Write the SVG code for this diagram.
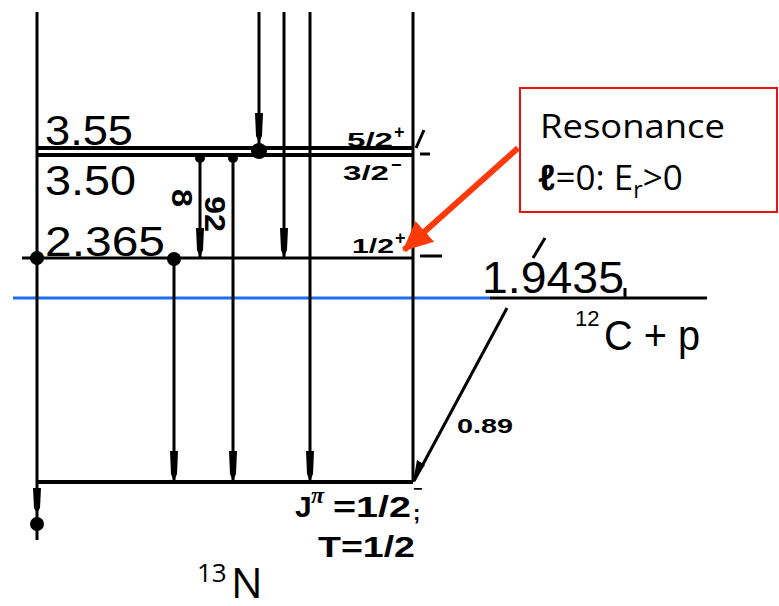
<svg xmlns="http://www.w3.org/2000/svg" width="779" height="606" viewBox="0 0 779 606">
<defs>
<style>
.ln{stroke:#000;stroke-width:3;fill:none}
.lv{stroke:#000;stroke-width:4;fill:none}
.dot{fill:#000}
.ah{fill:#000}
.big{font-family:"Liberation Sans",Arial,sans-serif;font-size:42px;fill:#000}
.sm{font-family:"Liberation Sans",Arial,sans-serif;font-size:20px;font-weight:bold;fill:#000}
.mid{font-family:"Liberation Sans",Arial,sans-serif;font-size:30px;fill:#000}
.cal{font-family:"Open Sans","Liberation Sans",sans-serif;fill:#000}
</style>
<marker id="redhead" markerUnits="userSpaceOnUse" markerWidth="32" markerHeight="32" refX="28" refY="14" orient="auto" viewBox="0 0 32 28">
<polygon points="0,0 30,14 0,28" fill="#ff3a0a"/>
</marker>
</defs>

<g id="levels">
<line class="lv" x1="37" y1="148" x2="413" y2="148"/>
<line class="lv" x1="37" y1="155" x2="413" y2="155"/>
<line class="ln" x1="22" y1="258" x2="413" y2="258"/>
<line class="lv" x1="37" y1="482" x2="413" y2="482"/>
<line x1="13" y1="298" x2="490" y2="298" stroke="#1a6ef0" stroke-width="3"/>
<line class="ln" x1="490" y1="298" x2="707" y2="298"/>
<line class="ln" x1="420" y1="256" x2="442" y2="256" stroke-width="2"/>
<line class="ln" x1="420" y1="154" x2="430" y2="154" stroke-width="2"/>
<line class="ln" x1="416" y1="148" x2="424" y2="130" stroke-width="2"/>
<line class="ln" x1="545" y1="238" x2="533" y2="258" stroke-width="2"/>
<line class="ln" x1="625" y1="288" x2="625" y2="298" stroke-width="2"/>
</g>

<g id="connectors">
<line class="ln" x1="37" y1="12" x2="37" y2="540"/>
<line class="ln" x1="259" y1="12" x2="259" y2="152"/>
<line class="ln" x1="284" y1="12" x2="284" y2="258"/>
<line class="ln" x1="310" y1="12" x2="310" y2="482"/>
<line class="ln" x1="413" y1="12" x2="413" y2="482"/>
<line class="ln" x1="200" y1="155" x2="200" y2="258"/>
<line class="ln" x1="233" y1="155" x2="233" y2="482"/>
<line class="ln" x1="174" y1="258" x2="174" y2="482"/>
<line class="ln" x1="507" y1="308" x2="414" y2="481" stroke-width="2"/>
<polygon class="ah" points="413,482 417,460 425,465"/>
<polygon class="ah" points="255,113 263,113 262,136 259,142 256,136"/>
<polygon class="ah" points="280,228 288,228 287,250 284,257 281,250"/>
<polygon class="ah" points="196,228 204,228 203,250 200,257 197,250"/>
<polygon class="ah" points="170,451 178,451 177,474 174,481 171,474"/>
<polygon class="ah" points="229,451 237,451 236,474 233,481 230,474"/>
<polygon class="ah" points="306,451 314,451 313,474 310,481 307,474"/>
<polygon class="ah" points="33,488 41,488 40,508 37,513 34,508"/>
<circle class="dot" cx="37" cy="258" r="7"/>
<circle class="dot" cx="174" cy="259" r="7"/>
<circle class="dot" cx="200" cy="158" r="5"/>
<circle class="dot" cx="233" cy="158" r="5"/>
<circle class="dot" cx="259" cy="151" r="8"/>
<circle class="dot" cx="37" cy="524" r="7"/>
<line x1="518" y1="148" x2="404" y2="250" stroke="#ff3a0a" stroke-width="6" marker-end="url(#redhead)"/>
</g>

<g id="labels">
<text class="big" x="45" y="145" textLength="88" lengthAdjust="spacingAndGlyphs">3.55</text>
<text class="big" x="45" y="195" textLength="91" lengthAdjust="spacingAndGlyphs">3.50</text>
<text class="big" x="45" y="256" textLength="120" lengthAdjust="spacingAndGlyphs">2.365</text>
<text class="sm" x="347" y="147" textLength="46" lengthAdjust="spacingAndGlyphs">5/2</text>
<text class="sm" x="394" y="138" style="font-size:18px">+</text>
<text class="sm" x="343" y="180" textLength="46" lengthAdjust="spacingAndGlyphs">3/2</text>
<text class="sm" x="391" y="171" style="font-size:18px">−</text>
<text class="sm" x="352" y="253" textLength="42" lengthAdjust="spacingAndGlyphs">1/2</text>
<text class="sm" x="395" y="244" style="font-size:18px">+</text>
<text font-family="Liberation Sans, Arial, sans-serif" font-weight="bold" font-size="30" fill="#000" transform="translate(172,189) rotate(90)" textLength="18" lengthAdjust="spacingAndGlyphs">8</text>
<text font-family="Liberation Sans, Arial, sans-serif" font-weight="bold" font-size="30" fill="#000" transform="translate(205,196) rotate(90)" textLength="36" lengthAdjust="spacingAndGlyphs">92</text>
<text class="big" x="482" y="293" style="font-size:44px" textLength="142" lengthAdjust="spacingAndGlyphs">1.9435</text>
<text class="mid" x="575" y="326" style="font-size:22px">12</text>
<text class="big" x="604" y="350" textLength="96" lengthAdjust="spacingAndGlyphs">C + p</text>
<text class="sm" x="457" y="433" textLength="56" lengthAdjust="spacingAndGlyphs">0.89</text>
<text class="mid" x="295" y="517" font-weight="bold">J</text>
<text font-family="Liberation Serif, serif" font-size="24" font-style="italic" font-weight="bold" fill="#000" x="311" y="503">π</text>
<text class="mid" x="333" y="517" font-weight="bold" textLength="78" lengthAdjust="spacingAndGlyphs">=1/2</text>
<text class="mid" x="413" y="494" style="font-size:16px" font-weight="bold">−</text>
<text class="mid" x="413" y="520" style="font-size:22px" font-weight="bold">;</text>
<text class="mid" x="318" y="557" font-weight="bold" textLength="97" lengthAdjust="spacingAndGlyphs">T=1/2</text>
<text class="cal" x="197" y="582" style="font-size:26px">13</text>
<text class="cal" x="231" y="598" style="font-size:42px">N</text>
</g>

<g id="callout">
<rect x="520" y="88" width="257" height="124" fill="#fff" stroke="#ee1111" stroke-width="2"/>
<text class="cal" x="540" y="138" style="font-size:33px" textLength="185" lengthAdjust="spacingAndGlyphs">Resonance</text>
<text class="cal" x="538" y="190" style="font-size:35px"><tspan font-weight="bold" font-style="italic">ℓ</tspan>=0: E<tspan style="font-size:23px" dy="8">r</tspan><tspan dy="-8">&gt;0</tspan></text>
</g>
</svg>
